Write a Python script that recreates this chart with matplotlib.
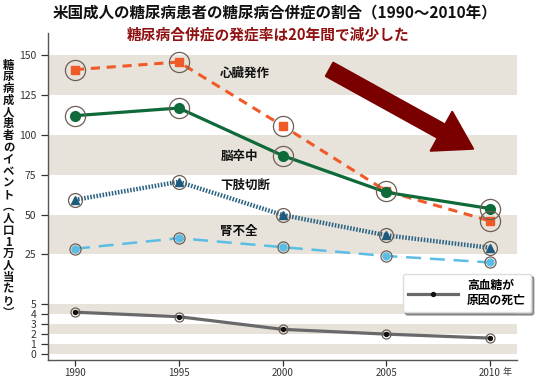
import numpy as np
import matplotlib
matplotlib.use("Agg")
import matplotlib.pyplot as plt
from matplotlib.lines import Line2D
from matplotlib.patches import FancyArrowPatch

plt.rcParams['font.family'] = ['Noto Sans CJK JP', 'DejaVu Sans']

# data
years = [1990, 1995, 2000, 2005, 2010]
heart_attack = [141.0, 145.8, 105.8, 64.8, 46.0]
stroke = [112.1, 116.9, 87.1, 64.0, 53.8]
amputation = [59.3, 70.6, 49.8, 37.0, 29.2]
renal = [28.6, 35.2, 29.6, 24.4, 21.8]
hyperglycemia = [4.2, 3.75, 2.48, 2.0, 1.6]

yticks = [0, 1, 2, 3, 4, 5, 25, 50, 75, 100, 125, 150]
xtick_labels = ["1990", "1995", "2000", "2005", "2010"]
bands = [(125, 150), (75, 100), (25, 50), (4, 5), (2, 3), (0, 1)]

title = "米国成人の糖尿病患者の糖尿病合併症の割合（1990〜2010年）"
subtitle = "糖尿病合併症の発症率は20年間で減少した"
ylabel = "糖尿病成人患者のイベント︵人口1万人当たり︶"
series_labels = ["心臓発作", "脳卒中", "下肢切断", "腎不全"]
label_y = [138.9, 86.6, 68.3, 39.6]
legend_label = "高血糖が\n原因の死亡"


# broken y axis: 0-5 stretched, 5-25 squeezed, 25-150 linear
def fwd(v):
    v = np.asarray(v, dtype=float)
    return np.where(v <= 5, 10 * v,
                    np.where(v <= 25, 50 + 2.5 * (v - 5), 100 + 1.6 * (v - 25)))


def inv(p):
    p = np.asarray(p, dtype=float)
    return np.where(p <= 50, p / 10,
                    np.where(p <= 100, 5 + (p - 50) / 2.5, 25 + (p - 100) / 1.6))


fig = plt.figure(figsize=(5.5, 3.79), dpi=100)
ax = fig.add_axes([48 / 550, 19 / 379, 469 / 550, 327 / 379])
ax.set_yscale('function', functions=(fwd, inv))
ax.set_xlim(1988.7, 2011.3)
ax.set_ylim(-0.6, 164)

for lo, hi in bands:
    ax.axhspan(lo, hi, color='#e7e3da', lw=0, zorder=0)

ring = '#6e5f55'

# heart attack
ax.plot(years, heart_attack, color='#f05a28', lw=2.2, ls=(0, (3, 2.2)), zorder=3)
ax.plot(years, heart_attack, 's', color='#f05a28', ms=5.5, zorder=4)
ax.plot(years, heart_attack, 'o', mfc='none', mec=ring, mew=0.9, ms=14.5, zorder=5)

# stroke
ax.plot(years, stroke, color='#0f6a3a', lw=2.3, zorder=3)
ax.plot(years, stroke, 'o', color='#0f6a3a', ms=7, zorder=4)
ax.plot(years[:3] + years[4:], stroke[:3] + stroke[4:], 'o', mfc='none',
        mec=ring, mew=0.9, ms=14.5, zorder=5)

# amputation
ax.plot(years, amputation, color='#2a6384', lw=3.2, ls=(0, (0.35, 0.35)), zorder=3)
ax.plot(years, amputation, '^', color='#1d5a7c', ms=6, zorder=4)
ax.plot(years, amputation, 'o', mfc='none', mec=ring, mew=0.9, ms=10, zorder=5)

# renal failure
ax.plot(years, renal, color='#5bbde6', lw=1.8, ls=(0, (6, 3.5)), zorder=3)
ax.plot(years, renal, 'o', color='#5bbde6', ms=5, zorder=4)
ax.plot(years, renal, 'o', mfc='none', mec=ring, mew=0.9, ms=8, zorder=5)

# hyperglycemia deaths
ax.plot(years, hyperglycemia, color='#69696b', lw=2.3, zorder=3)
ax.plot(years, hyperglycemia, 'o', color='#111111', ms=2.8, zorder=4)
ax.plot(years, hyperglycemia, 'o', mfc='none', mec=ring, mew=0.9, ms=6.5, zorder=5)

for lab, yv in zip(series_labels, label_y):
    ax.text(1997.0, yv, lab, fontsize=9, fontweight='bold', va='center',
            ha='left', color='#111111', zorder=6)

# big downward arrow
arrow = FancyArrowPatch((2002.15, 142), (2009.3, 90.5),
                        arrowstyle='simple,head_width=32,head_length=26,tail_width=11',
                        mutation_scale=1, color='#7a0000', lw=1.5,
                        joinstyle='round', capstyle='round', zorder=7)
ax.add_patch(arrow)

ax.set_xticks(years)
ax.set_xticklabels(xtick_labels)
ax.set_yticks(yticks)
ax.set_yticklabels([str(t) for t in yticks])
ax.minorticks_off()
ax.tick_params(axis='both', labelsize=7.5, colors='#333333', length=5, width=0.9,
               direction='out')
ax.tick_params(axis='x', labelsize=7, length=4, pad=1.5)
ax.annotate('年', xy=(2010, 0), xycoords=('data', 'axes fraction'),
            xytext=(9, -5.5), textcoords='offset points', fontsize=6.5,
            ha='left', va='top', color='#333333')

for side in ['top', 'right']:
    ax.spines[side].set_visible(False)
for side in ['left', 'bottom']:
    ax.spines[side].set_color('#555555')
    ax.spines[side].set_linewidth(1.0)

proxy = Line2D([0], [0], color='#69696b', lw=2.3, marker='o', ms=2.8,
               mfc='#111111', mec='#111111')
leg = ax.legend([proxy], [legend_label], loc='center', bbox_to_anchor=(0.893, 0.205),
                fancybox=True, shadow=True, handlelength=4.2, borderpad=0.45,
                prop={'size': 8.5, 'weight': 'bold'}, framealpha=1,
                edgecolor='#dddddd')
leg.set_zorder(8)

fig.text(0.5, 1 - 13 / 379, title, fontsize=11.2, fontweight='bold',
         ha='center', va='center', color='#111111')
fig.text(0.487, 1 - 34 / 379, subtitle, fontsize=10.6, fontweight='bold',
         ha='center', va='center', color='#8f1111')

for i, ch in enumerate(ylabel):
    fig.text(8.5 / 550, 1 - (65 + i * 11.8) / 379, ch, fontsize=8.2,
             fontweight='bold', ha='center', va='center', color='#111111')

fig.savefig('out.png', dpi=100)
